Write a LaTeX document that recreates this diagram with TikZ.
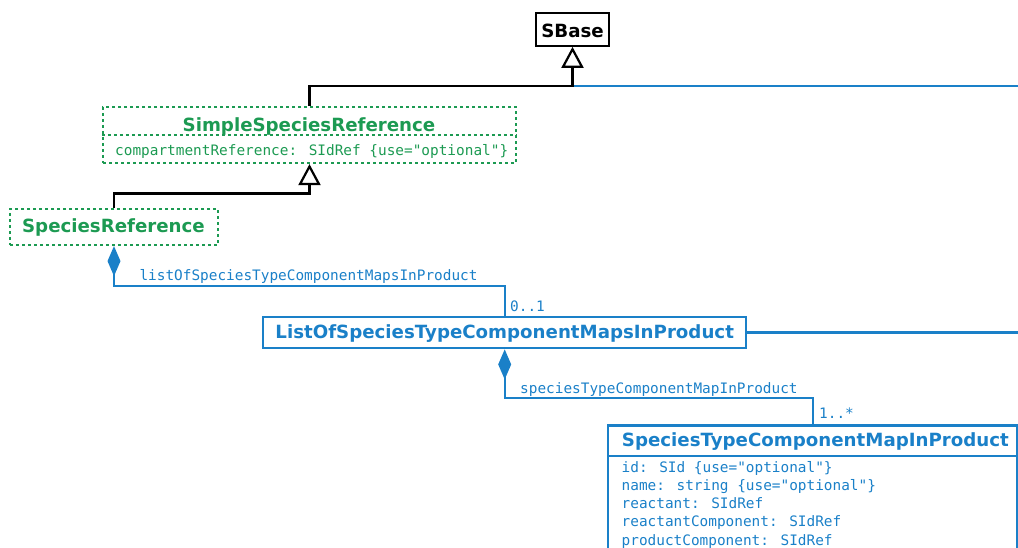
\documentclass[tikz,border=0pt]{standalone}
\usepackage{fontspec}
\setmainfont{DejaVu Sans}
\newfontfamily\monof{DejaVu Sans Mono}
\usetikzlibrary{arrows.meta}
\definecolor{sgreen}{RGB}{28,154,82}
\definecolor{sblue}{RGB}{26,128,200}
\begin{document}
\begin{tikzpicture}[x=1pt,y=-1pt,
  cls/.style={draw, line width=2.2pt, inner sep=0pt, rectangle},
  abstractcls/.style={cls, draw=sgreen, dash pattern=on 3pt off 3pt},
  title/.style={font=\fontsize{18.2}{20}\selectfont\bfseries, inner sep=0pt, anchor=base},
  attr/.style={font=\fontsize{14.4}{16}\selectfont\monof, inner sep=0pt, anchor=base west},
  gen/.style={line width=2.2pt, draw=black, -{Triangle[open, length=21pt, width=22pt]}},
  comp/.style={line width=2.2pt, draw=sblue, {Diamond[length=30pt, width=13pt]}-},
  plain/.style={line width=2.2pt, draw=sblue},
  ]
\useasboundingbox (0,0) rectangle (1018,548);
\clip (0,0) rectangle (1018,548);

% classes
\node[cls, minimum width=73pt, minimum height=32.5pt] (sbase) at (572.5,29.5) {};
\node[title] (sbaset) at (572.5,37.3) {SBase};

\node[abstractcls, minimum width=413pt, minimum height=56pt] (ssr) at (309.5,135) {};
\coordinate (d1) at (0,134.8);
\draw[sgreen, line width=2.2pt, dash pattern=on 3pt off 3pt] (ssr.west |- d1) -- (ssr.east |- d1);
\node[title, text=sgreen] (ssrt) at (309,132) {SimpleSpeciesReference};
\node[attr, text=sgreen] (ssra) at (115,155.8) {compartmentReference: SIdRef \{use="optional"\}};

\node[abstractcls, minimum width=208pt, minimum height=36pt] (sr) at (114,227) {};
\node[title, text=sgreen] (srt) at (113.5,232.7) {SpeciesReference};

\node[cls, draw=sblue, minimum width=482.7pt, minimum height=31.6pt] (lo) at (504.7,332.5) {};
\node[title, text=sblue] (lot) at (504.7,338.3) {ListOfSpeciesTypeComponentMapsInProduct};

\node[cls, draw=sblue, minimum width=408.7pt, minimum height=160pt, anchor=north] (stc) at (812.65,424.3) {};
\coordinate (d2) at (0,456);
\draw[plain] (stc.west |- d2) -- (stc.east |- d2);
\node[title, text=sblue, anchor=base west] (stct) at (621.7,446) {SpeciesTypeComponentMapInProduct};
\node[attr, text=sblue] (a1) at (621.5,472) {id: SId \{use="optional"\}};
\node[attr, text=sblue] (a2) at (621.5,490.3) {name: string \{use="optional"\}};
\node[attr, text=sblue] (a3) at (621.5,508.5) {reactant: SIdRef};
\node[attr, text=sblue] (a4) at (621.5,526.8) {reactantComponent: SIdRef};
\node[attr, text=sblue] (a5) at (621.5,545) {productComponent: SIdRef};

% connectors
\coordinate (j1) at (572.5,86);
\coordinate (e1) at (1018,86);
\draw[plain] (j1) -- (e1);
\draw[gen] (ssr.north) |- (j1) -- (sbase.south);

\coordinate (j2) at (309.5,193.5);
\draw[gen] (sr.north) |- (j2) -- (ssr.south);

\coordinate (c1) at (504.7,286);
\draw[comp] (sr.south) |- (c1) -- (lo.north);
\node[attr, text=sblue] (l1) at (139.3,280.7) {listOfSpeciesTypeComponentMapsInProduct};
\node[attr, text=sblue] (m1) at (510,311.5) {0..1};

\coordinate (c2) at (812.65,398.3);
\draw[comp] (lo.south) |- (c2) -- (stc.north);
\node[attr, text=sblue] (l2) at (520,393.3) {speciesTypeComponentMapInProduct};
\node[attr, text=sblue] (m2) at (819,418) {1..*};

\coordinate (e2) at (1018,332.5);
\draw[plain] (lo.east) -- (e2);
\end{tikzpicture}
\end{document}
